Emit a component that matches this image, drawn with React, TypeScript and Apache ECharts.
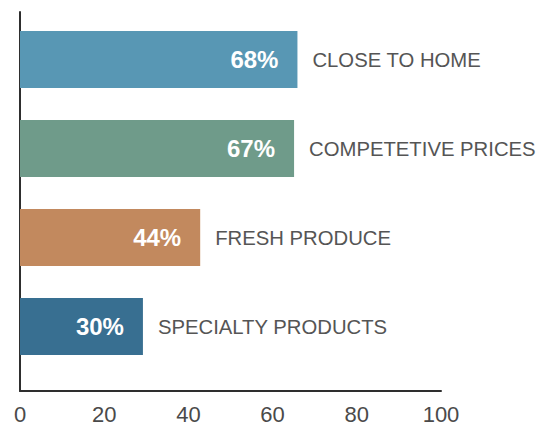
import React, { useEffect, useRef } from "react";
import * as echarts from "echarts";

const categories = ["CLOSE TO HOME", "COMPETETIVE PRICES", "FRESH PRODUCE", "SPECIALTY PRODUCTS"];
const barValues = [65.9, 65.1, 42.8, 29.2];
const valueLabels = ["68%", "67%", "44%", "30%"];
const barColors = ["#5897b4", "#6f9b8a", "#c2895e", "#386f91"];
const xTicks = [0, 20, 40, 60, 80, 100];

export default function App() {
  const ref = useRef<HTMLDivElement>(null);
  useEffect(() => {
    if (!ref.current) return;
    const chart = echarts.init(ref.current, null, { renderer: "svg" });
    const font = "'Liberation Sans', Arial, Helvetica, sans-serif";
    chart.setOption({
      animation: false,
      grid: [
        { left: 20, right: 110, top: 12, bottom: 30 },
        { left: 20, right: 110, top: 15, height: 356 },
      ],
      xAxis: [
        {
          gridIndex: 0,
          type: "value",
          min: xTicks[0],
          max: xTicks[xTicks.length - 1],
          interval: 20,
          axisLine: { show: true, lineStyle: { color: "#2e2e2e", width: 2 } },
          axisTick: { show: false },
          splitLine: { show: false },
          axisLabel: { color: "#4a4a4a", fontSize: 22, fontFamily: font, margin: 12 },
        },
        {
          gridIndex: 1,
          type: "value",
          min: 0,
          max: 100,
          show: false,
        },
      ],
      yAxis: [
        {
          gridIndex: 0,
          type: "value",
          axisLine: { show: true, lineStyle: { color: "#2e2e2e", width: 2 } },
          axisTick: { show: false },
          axisLabel: { show: false },
          splitLine: { show: false },
        },
        {
          gridIndex: 1,
          type: "category",
          inverse: true,
          data: categories,
          show: false,
        },
      ],
      series: [
        {
          type: "bar",
          xAxisIndex: 1,
          yAxisIndex: 1,
          barWidth: 57,
          data: barValues.map((v, i) => ({ value: v, itemStyle: { color: barColors[i] } })),
          label: {
            show: true,
            position: "insideRight",
            distance: 19,
            formatter: (p: any) => valueLabels[p.dataIndex],
            color: "#fff",
            fontSize: 24,
            fontWeight: "bold",
            fontFamily: font,
          },
          z: 2,
        },
        {
          type: "bar",
          xAxisIndex: 1,
          yAxisIndex: 1,
          barWidth: 57,
          barGap: "-100%",
          data: barValues,
          itemStyle: { color: "transparent" },
          label: {
            show: true,
            position: "right",
            distance: 15,
            formatter: (p: any) => categories[p.dataIndex],
            color: "#555",
            fontSize: 20.3,
            fontFamily: font,
          },
          silent: true,
          z: 1,
        },
      ],
    });
    return () => chart.dispose();
  }, []);
  return <div ref={ref} style={{ width: 551, height: 425, position: "absolute", left: 0, top: 0 }} />;
}
